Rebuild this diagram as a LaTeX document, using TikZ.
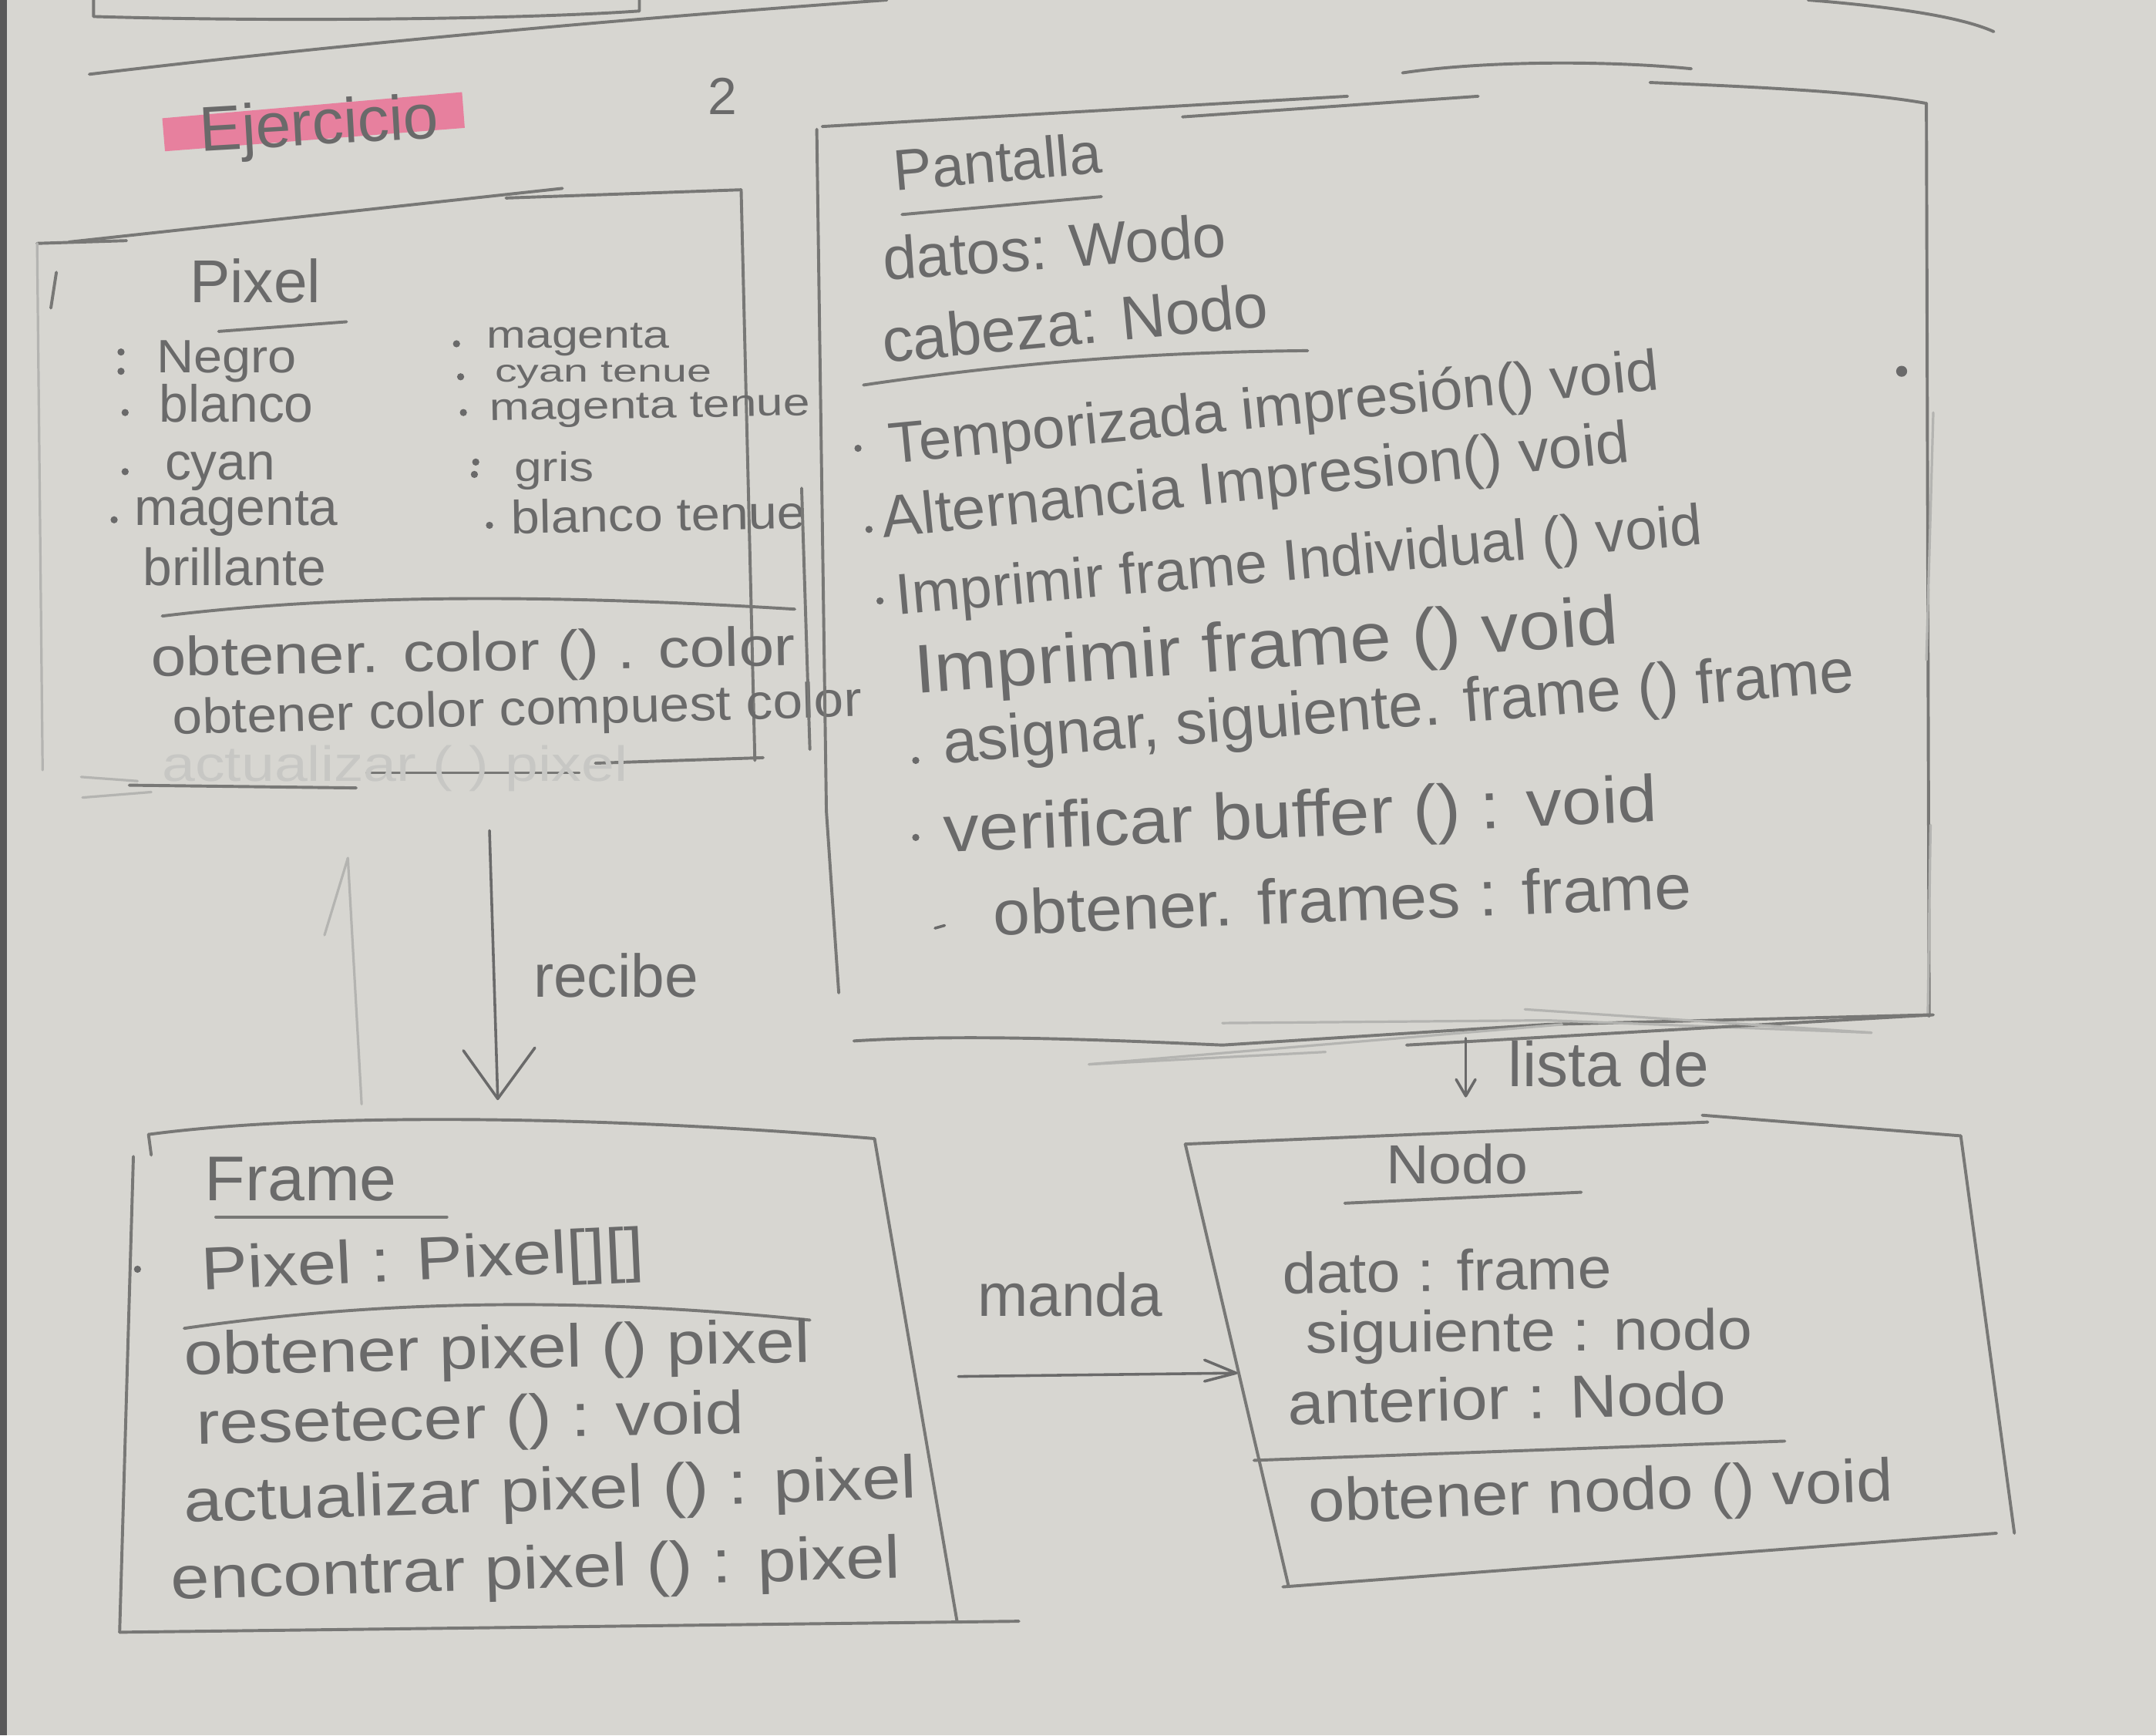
\documentclass[tikz,border=0pt]{standalone}
\usepackage{fontspec}
\setmainfont{Liberation Sans}
\usetikzlibrary{calc}
\definecolor{paper}{RGB}{215,214,209}
\definecolor{pencil}{RGB}{106,106,106}
\definecolor{lead}{RGB}{120,120,118}
\definecolor{faint}{RGB}{180,180,177}
\definecolor{ghost}{RGB}{199,199,196}
\definecolor{marker}{RGB}{231,128,158}
\newcommand\fsz[1]{\fontsize{#1}{#1}\selectfont}
% horizontal stretch for wide handwriting
\newcommand\hw[2]{\scalebox{#1}[1]{#2}}

\begin{document}
\begin{tikzpicture}[x=1pt,y=-1pt,
  txt/.style={anchor=base west,inner sep=0pt,outer sep=0pt,text=pencil},
  boxline/.style={draw=lead,line width=2.2pt,line cap=round,line join=round},
  lightline/.style={draw=faint,line width=1.8pt,line cap=round,line join=round},
  link/.style={draw=pencil,line width=2pt,line cap=round,line join=round},
  dot/.style={fill=pencil}]

% sheet of paper
\fill[paper] (0,0) rectangle (1568,1262);
\useasboundingbox (0,0) rectangle (1568,1262);
\fill[black!65] (0,0) rectangle (5,1262);

% strokes along the top of the page
\draw[boxline] (68,0) -- (68,12) .. controls (200,16) and (380,14) .. (465,8) -- (465,0);
\draw[boxline] (65,54) .. controls (250,32) and (450,14) .. (645,0);
\draw[boxline] (1315,0) .. controls (1390,6) and (1430,14) .. (1450,23);

% heading
\fill[marker] (118,86) -- (336,67) -- (338,93) -- (120,110) -- cycle;
\node[txt,font=\fsz{46},rotate=3.3] (lblEjercicio) at (146,110) {Ejercicio};
\node[txt,font=\fsz{38}] (lblPage) at (515,83) {2};

% ---------------- class Pixel ----------------
\draw[boxline] (27,177) -- (92,175);
\draw[boxline] (50,176) -- (409,137);
\draw[boxline] (368,144) -- (539,138);
\draw[lightline] (27,177) -- (31,560);
\draw[boxline] (41,198) -- (37,224);
\draw[boxline] (539,138) -- (549,553);
\draw[boxline] (94,571) -- (259,573);
\draw[boxline] (267,562) -- (421,562);
\draw[boxline] (433,555) -- (555,551);
\draw[lightline] (59,565) -- (100,568);
\draw[lightline] (60,580) -- (110,576);
\draw[boxline] (159,241) -- (252,234);
\draw[boxline] (118,448) .. controls (250,432) and (400,432) .. (578,443);

\node[txt,font=\fsz{44}] (pxTitle) at (138,220) {Pixel};
\node[txt,font=\fsz{34}] (pxNegro) at (114,271) {\hw{1.1}{Negro}};
\node[txt,font=\fsz{38}] (pxBlanco) at (116,307) {blanco};
\node[txt,font=\fsz{38}] (pxCyan) at (120,349) {cyan};
\node[txt,font=\fsz{38}] (pxMagenta) at (98,382) {magenta};
\node[txt,font=\fsz{38}] (pxBrillante) at (104,426) {brillante};
\node[txt,font=\fsz{28}] (pxMag) at (354,253) {\hw{1.22}{magenta}};
\node[txt,font=\fsz{23}] (pxCyanT) at (360,278) {\hw{1.4}{cyan tenue}};
\node[txt,font=\fsz{28},rotate=1] (pxMagT) at (356,306) {\hw{1.25}{magenta tenue}};
\node[txt,font=\fsz{30}] (pxGris) at (374,350) {\hw{1.2}{gris}};
\node[txt,font=\fsz{34},rotate=1] (pxBlancoT) at (372,388) {\hw{1.1}{blanco tenue}};
\node[txt,font=\fsz{40},rotate=1] (pxOpA) at (110,492) {\hw{1.15}{obtener. color () . color}};
\node[txt,font=\fsz{36},rotate=1.5] (pxOpB) at (126,534) {\hw{1.08}{obtener color compuest color}};
\node[txt,font=\fsz{36},text=ghost] (pxOpC) at (118,568) {\hw{1.2}{actualizar ( ) pixel}};

\foreach \p in {(88,256),(88,270),(91,300),(91,343),(83,378),
                (332,250),(335,274),(337,300),(346,336),(345,345),(356,382)}
  \fill[dot] \p circle (2.6pt);

% ---------------- class Pantalla ----------------
\draw[boxline] (598,92) -- (980,70);
\draw[boxline] (860,85) -- (1075,70);
\draw[boxline] (1020,53) .. controls (1080,44) and (1170,44) .. (1230,50);
\draw[boxline] (1200,60) .. controls (1300,64) and (1360,68) .. (1400,75);
\draw[boxline] (594,94) -- (601,590) -- (610,722);
\draw[boxline] (583,355) -- (589,545);
\draw[boxline] (1401,75) -- (1403,739);
\draw[lightline] (1406,300) -- (1401,480);
\draw[lightline] (1404,600) -- (1402,739);
\fill[dot] (1383,270) circle (4pt);
\draw[boxline] (621,757) .. controls (700,752) and (800,756) .. (889,760) -- (1125,745) -- (1404,738);
\draw[lightline] (792,774) -- (1136,745);
\draw[lightline] (792,774) -- (964,765);
\draw[lightline] (889,744) -- (1125,742) -- (1361,751);
\draw[boxline] (1023,760) -- (1406,738);
\draw[lightline] (1109,734) -- (1361,751);
\draw[boxline] (656,156) -- (801,143);
\draw[boxline] (628,280) .. controls (750,262) and (850,256) .. (951,255);

\node[txt,font=\fsz{42},rotate=5] (ptTitle) at (651,139) {Pantalla};
\node[txt,font=\fsz{44},rotate=4] (ptAttrA) at (643,204) {datos: Wodo};
\node[txt,font=\fsz{45},rotate=5.5] (ptAttrB) at (643,264) {cabeza: Nodo};
\node[txt,font=\fsz{42},rotate=5.5] (ptOpA) at (648,337) {\hw{1.02}{Temporizada impresión() void}};
\node[txt,font=\fsz{43},rotate=5.8] (ptOpB) at (643,391) {\hw{1.02}{Alternancia Impresion() void}};
\node[txt,font=\fsz{42},rotate=5] (ptOpC) at (653,447) {Imprimir frame Individual () void};
\node[txt,font=\fsz{50},rotate=4] (ptOpD) at (666,504) {\hw{1.08}{Imprimir frame () void}};
\node[txt,font=\fsz{45},rotate=4.5] (ptOpE) at (687,555) {asignar, siguiente. frame () frame};
\node[txt,font=\fsz{48},rotate=2.5] (ptOpF) at (687,620) {\hw{1.08}{verificar buffer () : void}};
\node[txt,font=\fsz{46},rotate=2.2] (ptOpG) at (723,680) {\hw{1.05}{obtener. frames : frame}};

\foreach \p in {(624,326),(632,385),(640,437),(666,553),(666,609)}
  \fill[dot] \p circle (2.6pt);
\draw[link] (680,675) -- (687,673);

% ---------------- class Frame ----------------
\draw[boxline] (108,825) .. controls (220,810) and (420,810) .. (636,828);
\draw[boxline] (108,825) -- (110,840);
\draw[boxline] (97,841) -- (87,1187);
\draw[boxline] (636,828) -- (696,1179);
\draw[boxline] (87,1187) -- (741,1179);
\draw[boxline] (157,885) -- (325,885);
\draw[boxline] (134,966) .. controls (300,942) and (450,946) .. (589,960);
\fill[dot] (100,923) circle (2.6pt);

\node[txt,font=\fsz{46}] (frTitle) at (149,873) {\hw{1.05}{Frame}};
\node[txt,font=\fsz{44},rotate=2.6] (frAttr) at (147,938) {\hw{1.15}{Pixel : Pixel[][]}};
\node[txt,font=\fsz{44},rotate=1.2] (frOpA) at (134,1000) {\hw{1.15}{obtener pixel () pixel}};
\node[txt,font=\fsz{44},rotate=1.1] (frOpB) at (143,1050) {\hw{1.15}{resetecer () : void}};
\node[txt,font=\fsz{44},rotate=1.9] (frOpC) at (134,1107) {\hw{1.15}{actualizar pixel () : pixel}};
\node[txt,font=\fsz{44},rotate=1.7] (frOpD) at (125,1163) {\hw{1.15}{encontrar pixel () : pixel}};

% ---------------- class Nodo ----------------
\draw[boxline] (862,832) -- (1242,816);
\draw[boxline] (1238,811) -- (1426,826);
\draw[boxline] (1426,826) -- (1465,1115);
\draw[boxline] (862,832) -- (937,1153);
\draw[boxline] (933,1154) -- (1452,1115);
\draw[boxline] (978,875) -- (1150,867);
\draw[boxline] (912,1062) -- (1298,1048);

\node[txt,font=\fsz{40}] (ndTitle) at (1008,861) {\hw{1.08}{Nodo}};
\node[txt,font=\fsz{42},rotate=1] (ndAttrA) at (933,941) {\hw{1.05}{dato : frame}};
\node[txt,font=\fsz{42},rotate=0.5] (ndAttrB) at (950,984) {\hw{1.08}{siguiente : nodo}};
\node[txt,font=\fsz{44},rotate=1.4] (ndAttrC) at (937,1036) {\hw{1.08}{anterior : Nodo}};
\node[txt,font=\fsz{44},rotate=2.1] (ndOpA) at (952,1107) {\hw{1.08}{obtener nodo () void}};

% ---------------- relations ----------------
\draw[lightline] (253,624) -- (263,803);
\draw[lightline] (253,624) -- (236,680);

\coordinate (recibeFrom) at (356,604);
\coordinate (recibeTo) at (362,799);
\draw[link] (recibeFrom) -- (recibeTo);
\draw[link] ($(recibeTo)+(-25,-35)$) -- (recibeTo) -- ($(recibeTo)+(27,-37)$);
\node[txt,font=\fsz{44}] (lblRecibe) at (388,725) {recibe};

\coordinate (mandaFrom) at (697,1001);
\coordinate (mandaTo) at (899,998.5);
\draw[link] (mandaFrom) -- (mandaTo);
\draw[link] ($(mandaTo)+(-23,-9.5)$) -- (mandaTo) -- ($(mandaTo)+(-23,6)$);
\node[txt,font=\fsz{44}] (lblManda) at (711,957) {manda};

\coordinate (listaFrom) at (1066,755);
\coordinate (listaTo) at (1066,797);
\draw[link] (listaFrom) -- (listaTo);
\draw[link] ($(listaTo)+(-7,-12)$) -- (listaTo) -- ($(listaTo)+(7,-12)$);
\node[txt,font=\fsz{46}] (lblLista) at (1097,790) {lista de};

\end{tikzpicture}
\end{document}
